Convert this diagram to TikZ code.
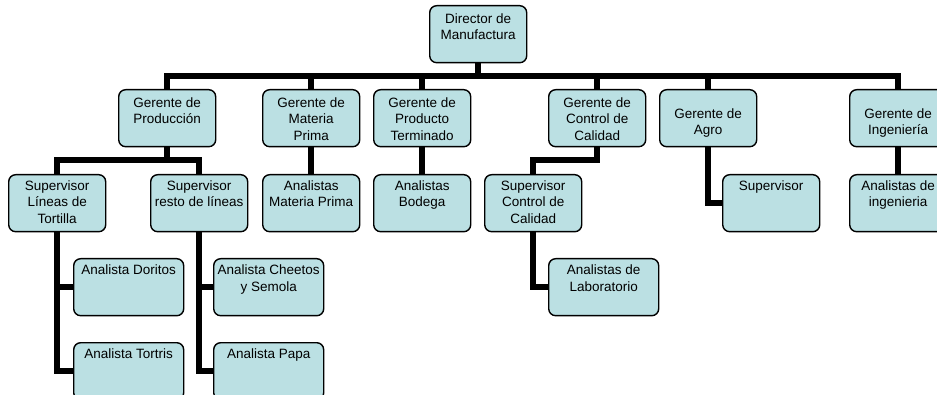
\documentclass[tikz,border=0pt]{standalone}
\usepackage{fontspec}
\setmainfont{Liberation Sans}
\usetikzlibrary{backgrounds}
\definecolor{boxfill}{RGB}{187,224,227}
\tikzset{
  orgbox/.style={draw=black, line width=1.4pt, fill=boxfill, rounded corners=7pt,
    anchor=north west, inner sep=0pt},
  lvlA/.style={orgbox, minimum width=97pt, minimum height=57pt},
  lvlB/.style={orgbox, minimum width=110pt, minimum height=57pt},
  label/.style={anchor=north, inner sep=0pt, align=center,
    font=\fontsize{13.5}{16.5}\selectfont},
  link/.style={draw=black, line width=6pt}
}
\begin{document}
\begin{tikzpicture}[x=1pt,y=-1pt]
\clip (0,0) rectangle (937,395);

% director
\node[lvlA] (dir) at (429,5) {};
% managers
\node[lvlA] (prod) at (118,89) {};
\node[lvlA] (mat)  at (262,89) {};
\node[lvlA] (term) at (373,89) {};
\node[lvlA] (cal)  at (548,89) {};
\node[lvlA] (agro) at (659,89) {};
\node[lvlA] (ing)  at (849,89) {};
% supervisors and analysts, third row
\node[lvlA] (supl) at (8,174) {};
\node[lvlA] (supr) at (150,174) {};
\node[lvlA] (amat) at (262,174) {};
\node[lvlA] (abod) at (373,174) {};
\node[lvlA] (supc) at (484,174) {};
\node[lvlA] (supa) at (722,174) {};
\node[lvlA] (aing) at (849,174) {};
% analysts, fourth row
\node[lvlB] (dor)  at (73,258) {};
\node[lvlB] (tor)  at (73,342) {};
\node[lvlB] (chee) at (213,258) {};
\node[lvlB] (papa) at (213,342) {};
\node[lvlB] (lab)  at (548,258) {};

% texts
\node[label] (tdir)  at ([yshift=-8.5pt]dir.north)  {Director de\\Manufactura};
\node[label] (tprod) at ([yshift=-8.5pt]prod.north) {Gerente de\\Producción};
\node[label] (tmat)  at ([yshift=-8.5pt]mat.north)  {Gerente de\\Materia\\Prima};
\node[label] (tterm) at ([yshift=-8.5pt]term.north) {Gerente de\\Producto\\Terminado};
\node[label] (tcal)  at ([yshift=-8.5pt]cal.north)  {Gerente de\\Control de\\Calidad};
\node[label] (tagro) at ([yshift=-19.5pt]agro.north) {Gerente de\\Agro};
\node[label] (ting)  at ([yshift=-19.5pt]ing.north)  {Gerente de\\Ingeniería};
\node[label] (tsupl) at ([yshift=-6.5pt]supl.north) {Supervisor\\Líneas de\\Tortilla};
\node[label] (tsupr) at ([yshift=-6.5pt]supr.north) {Supervisor\\resto de líneas};
\node[label] (tamat) at ([yshift=-6.5pt]amat.north) {Analistas\\Materia Prima};
\node[label] (tabod) at ([yshift=-6.5pt]abod.north) {Analistas\\Bodega};
\node[label] (tsupc) at ([yshift=-6.5pt]supc.north) {Supervisor\\Control de\\Calidad};
\node[label] (tsupa) at ([yshift=-6.5pt]supa.north) {Supervisor};
\node[label] (taing) at ([yshift=-6.5pt]aing.north) {Analistas de\\ingenieria};
\node[label] (tdor)  at ([yshift=-7pt]dor.north)  {Analista Doritos};
\node[label] (ttor)  at ([yshift=-7pt]tor.north)  {Analista Tortris};
\node[label] (tchee) at ([yshift=-7pt]chee.north) {Analista Cheetos\\y Semola};
\node[label] (tpapa) at ([yshift=-7pt]papa.north) {Analista Papa};
\node[label] (tlab)  at ([yshift=-7pt]lab.north)  {Analistas de\\Laboratorio};

% white page and connectors, behind the boxes
\begin{scope}[on background layer]
  \fill[white] (0,0) rectangle (937,395);
  \coordinate (bus) at (0,76);
  \coordinate (subbus) at (0,160);
  \foreach \m in {prod,mat,term,cal,agro,ing}
    \draw[link] (dir.south) -- (dir.south |- bus) -| (\m.north);
  \draw[link] (prod.south) -- (prod.south |- subbus) -| (supl.north);
  \draw[link] (prod.south) -- (prod.south |- subbus) -| (supr.north);
  \draw[link] (cal.south) -- (cal.south |- subbus) -| (supc.north);
  \draw[link] (mat.south) -- (amat.north);
  \draw[link] (term.south) -- (abod.north);
  \draw[link] (ing.south) -- (aing.north);
  \draw[link] (agro.south) |- (supa.west);
  \draw[link] (supl.south) |- (dor.west);
  \draw[link] (supl.south) |- (tor.west);
  \draw[link] (supr.south) |- (chee.west);
  \draw[link] (supr.south) |- (papa.west);
  \draw[link] (supc.south) |- (lab.west);
\end{scope}
\end{tikzpicture}
\end{document}
